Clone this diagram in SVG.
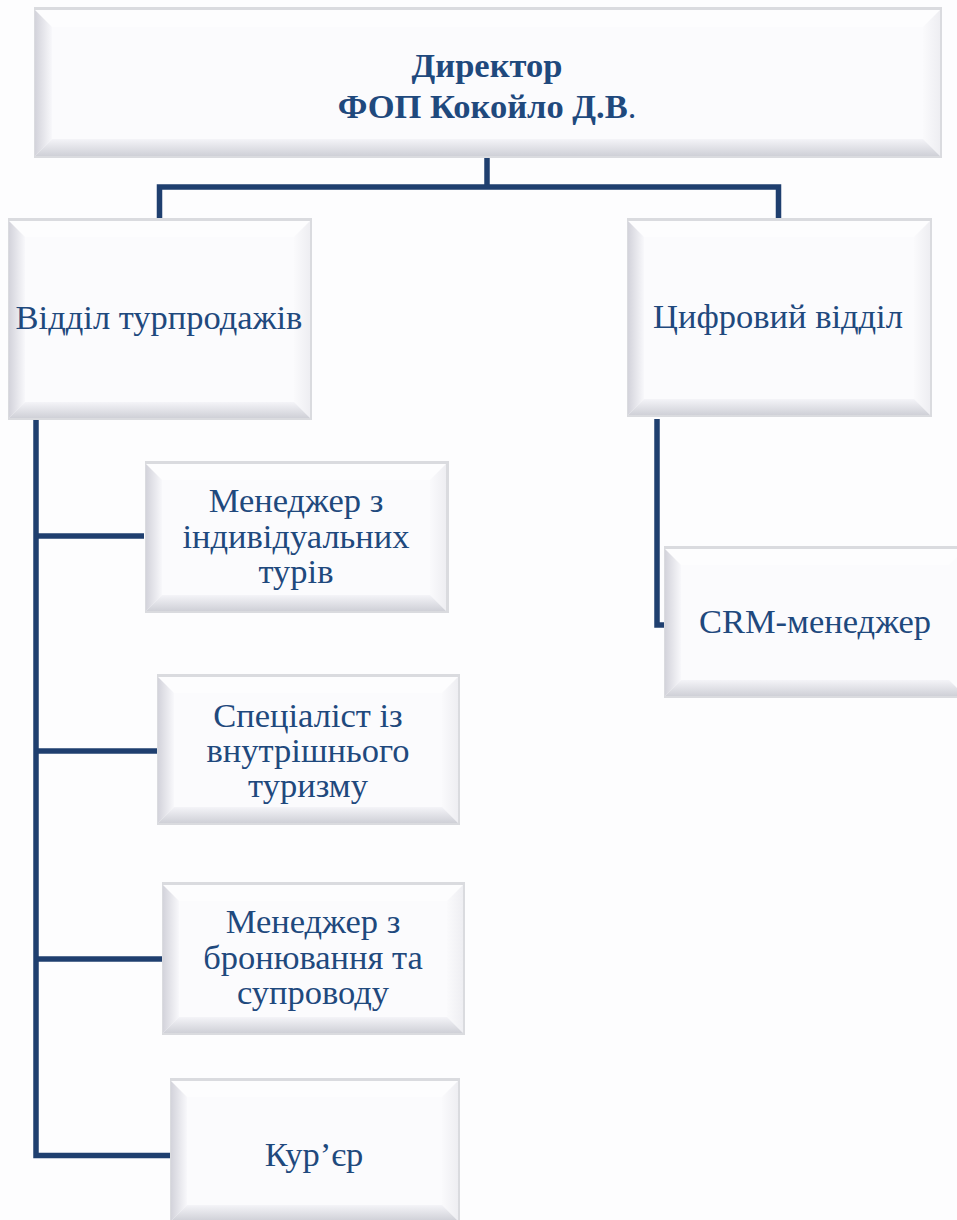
<svg xmlns="http://www.w3.org/2000/svg" width="957" height="1220" viewBox="0 0 957 1220">
<defs>
<linearGradient id="gL" x1="0" y1="0" x2="1" y2="0"><stop offset="0" stop-color="#d3d3db"/><stop offset="1" stop-color="#f8f8fb"/></linearGradient>
<linearGradient id="gB" x1="0" y1="1" x2="0" y2="0"><stop offset="0" stop-color="#cfd0d7"/><stop offset="1" stop-color="#f4f4f8"/></linearGradient>
<linearGradient id="gR" x1="1" y1="0" x2="0" y2="0"><stop offset="0" stop-color="#eeeef2"/><stop offset="1" stop-color="#fafafc"/></linearGradient>
</defs>
<style>
.back{fill:#dadbdf}
.face{fill:#fbfbfd}
.bl{fill:url(#gL)}
.bb{fill:url(#gB)}
.br{fill:url(#gR)}
.bt{fill:#fdfdfe}
text{font-family:'Liberation Serif','Times New Roman',serif;font-size:34.5px;fill:#1f497d;text-anchor:middle}
.tb{font-weight:bold}
.c{fill:none;stroke:#1f3f6f;stroke-width:5.5;stroke-linejoin:miter}
</style>
<rect width="957" height="1220" fill="#fdfdfe"/>
<g id="connectors">
<path class="c" d="M487,157 V187"/>
<path class="c" d="M159.5,219 V187 H778.5 V219"/>
<path class="c" d="M36,419 V1155.5 H170"/>
<path class="c" d="M36,536 H144"/>
<path class="c" d="M36,751 H157"/>
<path class="c" d="M36,959 H162"/>
<path class="c" d="M657,419 V625 H664"/>
</g>
<g id="director">
<rect class="back" x="34" y="7" width="908" height="151"/>
<rect class="face" x="35" y="10" width="905" height="146"/>
<polygon class="bt" points="35,10 940,10 923,27 52,27"/>
<polygon class="br" points="940,10 940,156 923,139 923,27"/>
<polygon class="bl" points="35,10 52,27 52,139 35,156"/>
<polygon class="bb" points="35,156 52,139 923,139 940,156"/>
<text class="tb" x="487" y="77">Директор</text>
<text class="tb" x="487" y="118">ФОП Кокойло Д.В<tspan font-weight="normal">.</tspan></text>
</g>
<g id="sales">
<rect class="back" x="8" y="218" width="304" height="202"/>
<rect class="face" x="9" y="221" width="301" height="197"/>
<polygon class="bt" points="9,221 310,221 294,237 25,237"/>
<polygon class="br" points="310,221 310,418 294,402 294,237"/>
<polygon class="bl" points="9,221 25,237 25,402 9,418"/>
<polygon class="bb" points="9,418 25,402 294,402 310,418"/>
<text x="159" y="329">Відділ турпродажів</text>
</g>
<g id="digital">
<rect class="back" x="627" y="218" width="305" height="199"/>
<rect class="face" x="628" y="221" width="302" height="194"/>
<polygon class="bt" points="628,221 930,221 914,237 644,237"/>
<polygon class="br" points="930,221 930,415 914,399 914,237"/>
<polygon class="bl" points="628,221 644,237 644,399 628,415"/>
<polygon class="bb" points="628,415 644,399 914,399 930,415"/>
<text x="778" y="328">Цифровий відділ</text>
</g>
<g id="crm">
<rect class="back" x="664" y="546" width="303" height="152"/>
<rect class="face" x="665" y="549" width="300" height="147"/>
<polygon class="bt" points="665,549 965,549 949,565 681,565"/>
<polygon class="bl" points="665,549 681,565 681,680 665,696"/>
<polygon class="bb" points="665,696 681,680 949,680 965,696"/>
<text x="815" y="633">CRM-менеджер</text>
</g>
<g id="individual">
<rect class="back" x="145" y="461" width="304" height="152"/>
<rect class="face" x="146" y="464" width="300" height="147"/>
<polygon class="bt" points="146,464 446,464 430,480 162,480"/>
<polygon class="br" points="446,464 446,611 430,595 430,480"/>
<polygon class="bl" points="146,464 162,480 162,595 146,611"/>
<polygon class="bb" points="146,611 162,595 430,595 446,611"/>
<text x="296" y="512">Менеджер з</text>
<text x="296" y="548">індивідуальних</text>
<text x="296" y="583">турів</text>
</g>
<g id="domestic">
<rect class="back" x="157" y="674" width="303" height="151"/>
<rect class="face" x="158" y="677" width="300" height="146"/>
<polygon class="bt" points="158,677 458,677 442,693 174,693"/>
<polygon class="br" points="458,677 458,823 442,807 442,693"/>
<polygon class="bl" points="158,677 174,693 174,807 158,823"/>
<polygon class="bb" points="158,823 174,807 442,807 458,823"/>
<text x="308" y="727">Спеціаліст із</text>
<text x="308" y="762">внутрішнього</text>
<text x="308" y="797">туризму</text>
</g>
<g id="booking">
<rect class="back" x="162" y="882" width="303" height="153"/>
<rect class="face" x="163" y="885" width="300" height="148"/>
<polygon class="bt" points="163,885 463,885 447,901 179,901"/>
<polygon class="br" points="463,885 463,1033 447,1017 447,901"/>
<polygon class="bl" points="163,885 179,901 179,1017 163,1033"/>
<polygon class="bb" points="163,1033 179,1017 447,1017 463,1033"/>
<text x="313" y="933">Менеджер з</text>
<text x="313" y="969">бронювання та</text>
<text x="313" y="1004">супроводу</text>
</g>
<g id="courier">
<rect class="back" x="170" y="1078" width="290" height="145"/>
<rect class="face" x="171" y="1081" width="287" height="140"/>
<polygon class="bt" points="171,1081 458,1081 442,1097 187,1097"/>
<polygon class="br" points="458,1081 458,1221 442,1205 442,1097"/>
<polygon class="bl" points="171,1081 187,1097 187,1205 171,1221"/>
<polygon class="bb" points="171,1221 187,1205 442,1205 458,1221"/>
<text x="314" y="1166">Кур’єр</text>
</g>
</svg>
